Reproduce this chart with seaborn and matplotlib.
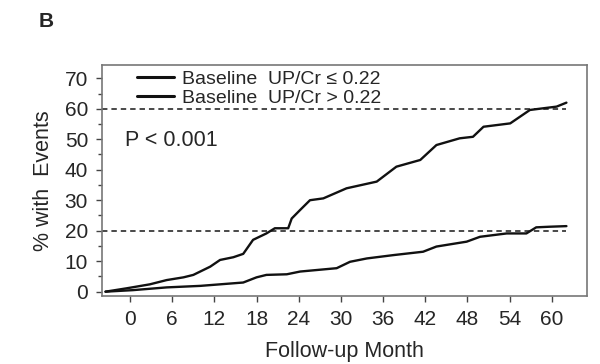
import matplotlib
matplotlib.use("Agg")
import matplotlib.pyplot as plt
import seaborn as sns
import pandas as pd
from matplotlib.ticker import MultipleLocator

# Data
low_label = "Baseline  UP/Cr \u2264 0.22"
high_label = "Baseline  UP/Cr > 0.22"

high_month = [-3.5, -0.5, 2.8, 5.2, 7.6, 9.0, 11.4, 12.8, 14.7, 16.1, 17.5, 19.4, 20.6, 22.5, 23.0,
              24.2, 25.6, 27.5, 30.8, 35.1, 37.9, 41.3, 43.6, 46.9, 48.8, 50.3, 54.1, 56.9, 60.7, 62.1]
high_pct = [0.0, 1.1, 2.4, 3.8, 4.7, 5.5, 8.2, 10.4, 11.3, 12.4, 17.0, 19.1, 20.8, 20.8, 24.0,
            26.8, 30.0, 30.6, 33.9, 36.1, 41.0, 43.2, 48.1, 50.3, 50.8, 54.1, 55.2, 59.6, 60.7, 62.0]

low_month = [-3.5, 0.4, 5.2, 10.0, 16.1, 18.0, 19.4, 22.3, 24.2, 29.4, 31.3, 33.7, 37.5, 41.7,
             43.6, 47.9, 49.8, 53.6, 56.4, 57.8, 59.7, 62.1]
low_pct = [0.0, 0.5, 1.4, 1.9, 3.0, 4.7, 5.5, 5.7, 6.6, 7.7, 9.8, 10.9, 12.0, 13.1,
           14.8, 16.4, 18.0, 19.1, 19.1, 21.1, 21.3, 21.5]

ref_levels = [60, 20]
x_ticks = [0, 6, 12, 18, 24, 30, 36, 42, 48, 54, 60]
y_ticks = [0, 10, 20, 30, 40, 50, 60, 70]

df = pd.concat([
    pd.DataFrame({"month": low_month, "pct": low_pct, "group": low_label}),
    pd.DataFrame({"month": high_month, "pct": high_pct, "group": high_label}),
], ignore_index=True)

sns.set_style("ticks")
plt.rcParams["font.family"] = ["Liberation Sans", "DejaVu Sans"]

fig = plt.figure(figsize=(6.0, 3.64), dpi=100)
ax = fig.add_axes([0.17, 0.187, 0.808, 0.634])

for lv in ref_levels:
    ax.plot([-4, 62.1], [lv, lv], color="#3a3a3a", lw=1.3, ls=(0, (3, 2.2)), zorder=1)

sns.lineplot(data=df, x="month", y="pct", hue="group", palette=["#111111", "#111111"],
             estimator=None, sort=False, lw=1.7, ax=ax, zorder=3)

ax.set_xlim(-4, 65)
ax.set_ylim(-1.4, 74.3)
ax.set_xticks(x_ticks)
ax.set_yticks(y_ticks)
ax.yaxis.set_minor_locator(MultipleLocator(5))
ax.tick_params(axis="both", which="major", labelsize=15, length=4, width=1, color="#444444",
               pad=6)
ax.tick_params(axis="y", which="minor", length=3, width=1, color="#444444")
for s in ax.spines.values():
    s.set_color("#777777")
    s.set_linewidth(1.2)

ax.set_xlabel("Follow-up Month", fontsize=15.5, labelpad=9)
ax.set_ylabel("% with  Events", fontsize=15.5, labelpad=8)

leg = ax.legend(loc="upper left", bbox_to_anchor=(0.045, 1.035), frameon=False, fontsize=14,
                handlelength=1.9, handletextpad=0.4, labelspacing=0.05, borderpad=0.2)
for h in leg.get_lines():
    h.set_linewidth(2.2)

ax.text(-0.7, 49.7, "P < 0.001", fontsize=15.5, va="center", ha="left")
fig.text(0.065, 0.942, "B", fontsize=15, fontweight="bold", va="center", ha="left")

fig.savefig("out.png", dpi=100)
